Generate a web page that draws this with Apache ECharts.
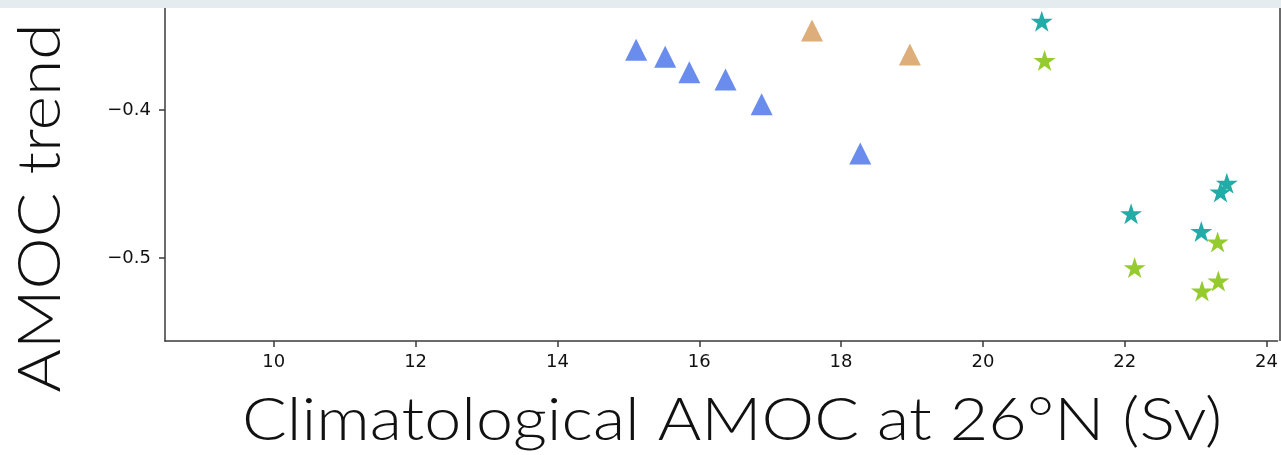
<!DOCTYPE html>
<html>
<head>
<meta charset="utf-8">
<script src="https://cdn.jsdelivr.net/npm/echarts@6/dist/echarts.min.js"></script>
<style>
html,body{margin:0;padding:0;background:#fff;}
#chart{width:1281px;height:455px;}
</style>
</head>
<body>
<div id="chart"></div>
<script>
// Data
const blueTriangles = [[15.11,-0.3593],[15.52,-0.3640],[15.86,-0.3745],[16.37,-0.3795],[16.88,-0.3961],[18.27,-0.4295]];
const tanTriangles = [[17.59,-0.3463],[18.97,-0.3626]];
const tealStars = [[20.83,-0.3400],[22.09,-0.4701],[23.44,-0.4495],[23.35,-0.4555],[23.08,-0.4821]];
const greenStars = [[20.87,-0.3666],[23.31,-0.4893],[22.14,-0.5066],[23.32,-0.5157],[23.09,-0.5224]];
const xTicks = [10,12,14,16,18,20,22,24];
const yTicks = [-0.5,-0.4];
const xTitle = 'Climatological AMOC at 26°N (Sv)';
const yTitle = 'AMOC trend';

const chart = echarts.init(document.getElementById('chart'), null, {renderer:'canvas'});
const axisCol = '#3a3a3a';
const tickFont = {fontFamily:'DejaVu Sans', fontSize:18, color:'#111'};
const starPath = 'path://M0,-10L2.25,-3.09L9.51,-3.09L3.63,1.18L5.88,8.09L0,3.82L-5.88,8.09L-3.63,1.18L-9.51,-3.09L-2.25,-3.09Z';
const option = {
  animation:false,
  backgroundColor:'#fff',
  grid:{left:165, right:1, top:8, bottom:114, containLabel:false},
  xAxis:{
    type:'value', min:8.466, max:24.155,
    splitLine:{show:false},
    axisLine:{show:true, onZero:false, lineStyle:{color:axisCol, width:1.5}},
    axisTick:{show:true, customValues:xTicks, length:6, inside:false, lineStyle:{color:axisCol, width:1.5}},
    axisLabel:Object.assign({customValues:xTicks, margin:12, formatter:v=>String(v)}, tickFont)
  },
  yAxis:{
    type:'value', min:-0.5562, max:-0.3311,
    splitLine:{show:false},
    axisLine:{show:true, onZero:false, lineStyle:{color:axisCol, width:1.5}},
    axisTick:{show:true, customValues:yTicks, length:6, lineStyle:{color:axisCol, width:1.5}},
    axisLabel:Object.assign({customValues:yTicks, margin:14, formatter:v=>v.toFixed(1).replace('-','\u2212')}, tickFont)
  },
  graphic:[
    {type:'rect', left:0, top:0, shape:{width:1281, height:8}, style:{fill:'#e4ecef'}, z:100},
    {type:'line', shape:{x1:1280, y1:8, x2:1280, y2:341}, style:{stroke:axisCol, lineWidth:1.5}, z:100},
    {type:'text', x:732, y:421, scaleX:1.107, style:{text:xTitle, font:'300 60px Lato', fill:'#111', textAlign:'center', textVerticalAlign:'middle'}},
    {type:'text', x:41, y:208, rotation:Math.PI/2, scaleX:1.1, style:{text:yTitle, font:'300 60px Lato', fill:'#111', textAlign:'center', textVerticalAlign:'middle'}}
  ],
  series:[
    {type:'scatter', data:blueTriangles, symbol:'triangle', symbolSize:[22,22], itemStyle:{color:'#6a8cec', opacity:1}},
    {type:'scatter', data:tanTriangles, symbol:'triangle', symbolSize:[22,22], itemStyle:{color:'#ddae7a', opacity:1}},
    {type:'scatter', data:tealStars, symbol:starPath, symbolSize:[22,21], itemStyle:{color:'#22aca8', opacity:1}},
    {type:'scatter', data:greenStars, symbol:starPath, symbolSize:[22,21], itemStyle:{color:'#95cb2e', opacity:1}}
  ]
};
chart.setOption(option);
</script>
</body>
</html>
